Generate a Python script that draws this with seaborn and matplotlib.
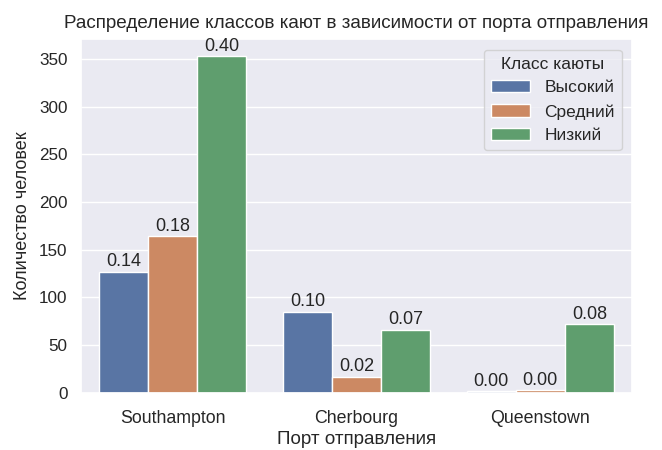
import matplotlib
matplotlib.use("Agg")
import matplotlib.pyplot as plt
import seaborn as sns
import pandas as pd

ports = ["Southampton", "Cherbourg", "Queenstown"]
classes = ["Высокий", "Средний", "Низкий"]
# количество человек: порт x класс
counts_high = [127, 85, 2]
counts_mid = [164, 17, 3]
counts_low = [353, 66, 72]

total = 889

rows = []
for cls, vals in zip(classes, [counts_high, counts_mid, counts_low]):
    for port, v in zip(ports, vals):
        rows.append({"port": port, "cls": cls, "count": v})
df = pd.DataFrame(rows)

sns.set_theme(style="darkgrid")
plt.rcParams["font.family"] = ["Liberation Sans", "DejaVu Sans"]

fig, ax = plt.subplots(figsize=(6.62, 4.5), dpi=100)
sns.barplot(data=df, x="port", y="count", hue="cls", hue_order=classes,
            order=ports, ax=ax)

for cont, vals in zip(ax.containers, [counts_high, counts_mid, counts_low]):
    ax.bar_label(cont, labels=[f"{v / total:.2f}" for v in vals], fontsize=13,
                 padding=1)

ax.set_title("Распределение классов кают в зависимости от порта отправления",
             fontsize=13.6, pad=8)
ax.set_xlabel("Порт отправления", fontsize=13.5, labelpad=3)
ax.set_ylabel("Количество человек", fontsize=13, labelpad=6)
ax.tick_params(axis="x", labelsize=12.8, pad=6)
ax.tick_params(axis="y", labelsize=12.3)
ax.legend(title="Класс каюты", loc="upper right", fontsize=12.5, title_fontsize=12.5,
          borderaxespad=0.6, handlelength=2.3)

fig.subplots_adjust(left=0.122, right=0.955, bottom=0.127, top=0.913)
fig.savefig("out.png", dpi=100)
